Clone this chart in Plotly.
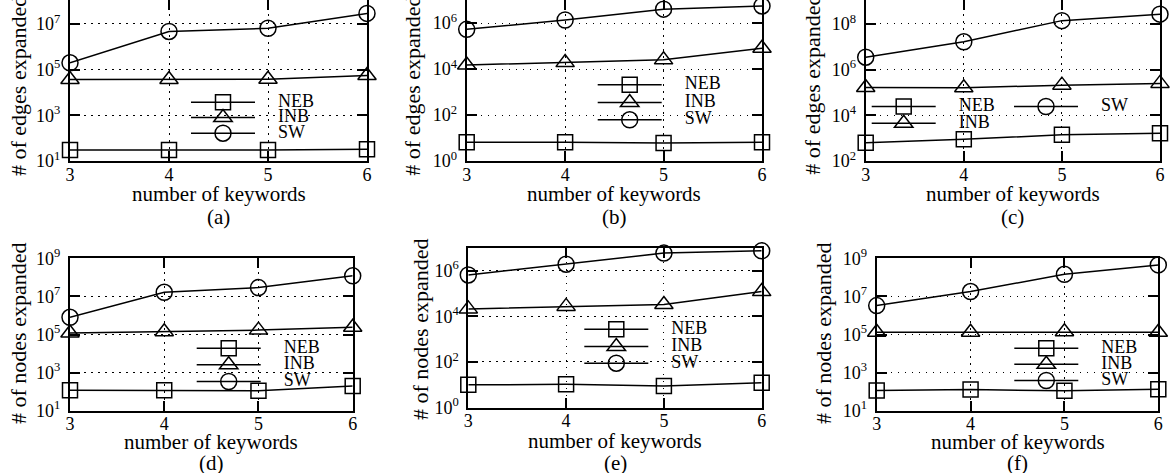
import plotly.graph_objects as go

# ---------------- data ----------------
keywords = [3, 4, 5, 6]
x_tick_labels = ["3", "4", "5", "6"]
series_names = ["NEB", "INB", "SW"]
panel_letters = ["(a)", "(b)", "(c)", "(d)", "(e)", "(f)"]
y_titles = ["# of edges expanded"] * 3 + ["# of nodes expanded"] * 3
x_title = "number of keywords"

a_neb = [30, 30, 30, 33]
a_inb = [37000, 37000, 38000, 55000]
a_sw = [2.0e5, 4.7e6, 6.5e6, 2.9e7]

b_neb = [6.5, 6.5, 6.0, 6.5]
b_inb = [1.5e4, 1.9e4, 2.5e4, 8.0e4]
b_sw = [5.3e5, 1.35e6, 4.0e6, 5.5e6]

c_neb = [630, 900, 1400, 1650]
c_inb = [1.66e5, 1.6e5, 2.1e5, 2.5e5]
c_sw = [3.5e6, 1.66e7, 1.4e8, 2.7e8]

d_neb = [120, 120, 110, 200]
d_inb = [1.2e5, 1.4e5, 1.7e5, 2.4e5]
d_sw = [8.0e5, 1.65e7, 2.9e7, 1.2e8]

e_neb = [10, 10.5, 9, 12.5]
e_inb = [2.1e4, 2.7e4, 3.3e4, 1.2e5]
e_sw = [6.4e5, 1.9e6, 5.8e6, 7.3e6]

f_neb = [115, 130, 110, 135]
f_inb = [1.3e5, 1.3e5, 1.4e5, 1.3e5]
f_sw = [3.3e6, 1.8e7, 1.45e8, 4.5e8]

# y tick exponents shown per panel
a_exps = [1, 3, 5, 7]
b_exps = [0, 2, 4, 6]
c_exps = [2, 4, 6, 8]
d_exps = [1, 3, 5, 7, 9]
e_exps = [0, 2, 4, 6]
f_exps = [1, 3, 5, 7, 9]

# log10 y ranges
a_range = [1, 8.05]
b_range = [0, 7.0]
c_range = [2, 9.05]
d_range = [1, 9]
e_range = [0, 7]
f_range = [1, 9]

series = [
    (a_neb, a_inb, a_sw), (b_neb, b_inb, b_sw), (c_neb, c_inb, c_sw),
    (d_neb, d_inb, d_sw), (e_neb, e_inb, e_sw), (f_neb, f_inb, f_sw),
]
exps = [a_exps, b_exps, c_exps, d_exps, e_exps, f_exps]
ranges = [a_range, b_range, c_range, d_range, e_range, f_range]

# ---------------- layout geometry (pixels) ----------------
W, H = 1176, 473
# (x0, x1, ytop, ybottom)
boxes = [
    (70, 367, 0, 161), (466.7, 762, 0, 161), (865.7, 1160, 0, 161),
    (70, 352.7, 258.3, 410.7), (468.3, 761.7, 247.7, 407.7), (876.7, 1158.3, 258.3, 410.7),
]
xtitle_y = [194, 194, 194, 442, 441, 442]
caption_y = [217, 217, 217, 463, 463, 463]
ytitle_x = [18, 411.7, 811.7, 18, 420, 823]
# y title: (anchor px, anchor mode)
ytitle_anchor = [(178, "bottom"), (178, "bottom"), (177, "bottom"),
                 (334, "middle"), (330, "middle"), (334, "middle")]
# legend entries per panel: (line left px, row centre px) for NEB, INB, SW
legend_pos = [
    [(190, 100.7), (190, 116), (190, 131.7)],
    [(596.7, 83.3), (596.7, 101), (596.7, 118.3)],
    [(870.7, 105), (870.7, 121.7), (1013, 105)],
    [(195.7, 346.7), (195.7, 363.3), (195.7, 380)],
    [(583.3, 327.7), (583.3, 345), (583.3, 361.7)],
    [(1013.3, 346.7), (1013.3, 362.7), (1013.3, 379)],
]

FONT = "Liberation Serif"
TICK_SIZE = 18
XTITLE_SIZE = 21
YTITLE_SIZE = 22
LEG_SIZE = 18
symbols = ["square-open", "triangle-up-open", "circle-open"]
sizes = [15, 16, 16]

fig = go.Figure()
layout = dict(
    template="none",
    width=W, height=H, margin=dict(l=0, r=0, t=0, b=0, autoexpand=False),
    paper_bgcolor="white", plot_bgcolor="white",
    font=dict(family=FONT, size=TICK_SIZE, color="black"),
    annotations=[],
)

legend_count = 0
for p in range(6):
    x0, x1, yt, yb = boxes[p]
    ax = "" if p == 0 else str(p + 1)
    for s in range(3):
        legend_count += 1
        lid = "legend" if legend_count == 1 else f"legend{legend_count}"
        lx, ly = legend_pos[p][s]
        layout[lid] = dict(
            x=(lx - 4) / W, y=1 - (ly - 13) / H, xanchor="left", yanchor="top",
            xref="paper", yref="paper",
            bgcolor="rgba(0,0,0,0)", borderwidth=0,
            font=dict(family=FONT, size=12, color="black"),
            itemwidth=64, tracegroupgap=0,
        )
        fig.add_trace(go.Scatter(
            x=keywords, y=series[p][s],
            name="<span style='font-size:%dpx'>\u00a0\u00a0\u00a0\u00a0%s</span>" % (LEG_SIZE, series_names[s]),
            mode="lines+markers",
            line=dict(color="black", width=1.5),
            marker=dict(symbol=symbols[s], size=sizes[s], color="black",
                        line=dict(color="black", width=1.5)),
            cliponaxis=False,
            xaxis="x" + ax, yaxis="y" + ax,
            legend=lid, showlegend=True,
        ))
    common = dict(
        ticks="inside", ticklen=10, tickwidth=1.5, tickcolor="black",
        showline=True, linecolor="black", linewidth=2, mirror="ticks",
        showgrid=True, gridcolor="black", gridwidth=1.2, griddash="1.5px,5.5px",
        zeroline=False, tickfont=dict(size=TICK_SIZE), automargin=False,
    )
    layout["xaxis" + ax] = dict(
        domain=[x0 / W, x1 / W], anchor="y" + ax, range=[3, 6],
        tickvals=keywords, ticktext=x_tick_labels, ticklabelstandoff=-4,
        **common,
    )
    layout["yaxis" + ax] = dict(
        domain=[1 - yb / H, 1 - yt / H], anchor="x" + ax, type="log", range=ranges[p],
        tickvals=[10 ** e for e in exps[p]],
        ticktext=["10<sup>%d</sup>" % e for e in exps[p]],
        ticklabelstandoff=4,
        **common,
    )
    ya_px, ya_mode = ytitle_anchor[p]
    layout["annotations"].append(dict(
        text=y_titles[p], textangle=-90, xref="paper", yref="paper",
        x=ytitle_x[p] / W, y=1 - ya_px / H, showarrow=False,
        xanchor="center", yanchor=ya_mode, font=dict(size=YTITLE_SIZE),
    ))
    layout["annotations"].append(dict(
        text=x_title, xref="paper", yref="paper",
        x=(x0 + x1) / 2 / W, y=1 - xtitle_y[p] / H, showarrow=False,
        xanchor="center", yanchor="middle", font=dict(size=XTITLE_SIZE),
    ))
    layout["annotations"].append(dict(
        text=panel_letters[p], xref="paper", yref="paper",
        x=(x0 + x1) / 2 / W, y=1 - caption_y[p] / H, showarrow=False,
        xanchor="center", yanchor="middle", font=dict(size=XTITLE_SIZE),
    ))

fig.update_layout(**layout)
fig.write_html("out.html", config={"displayModeBar": False},
               post_script="document.body.style.margin='0px';")
